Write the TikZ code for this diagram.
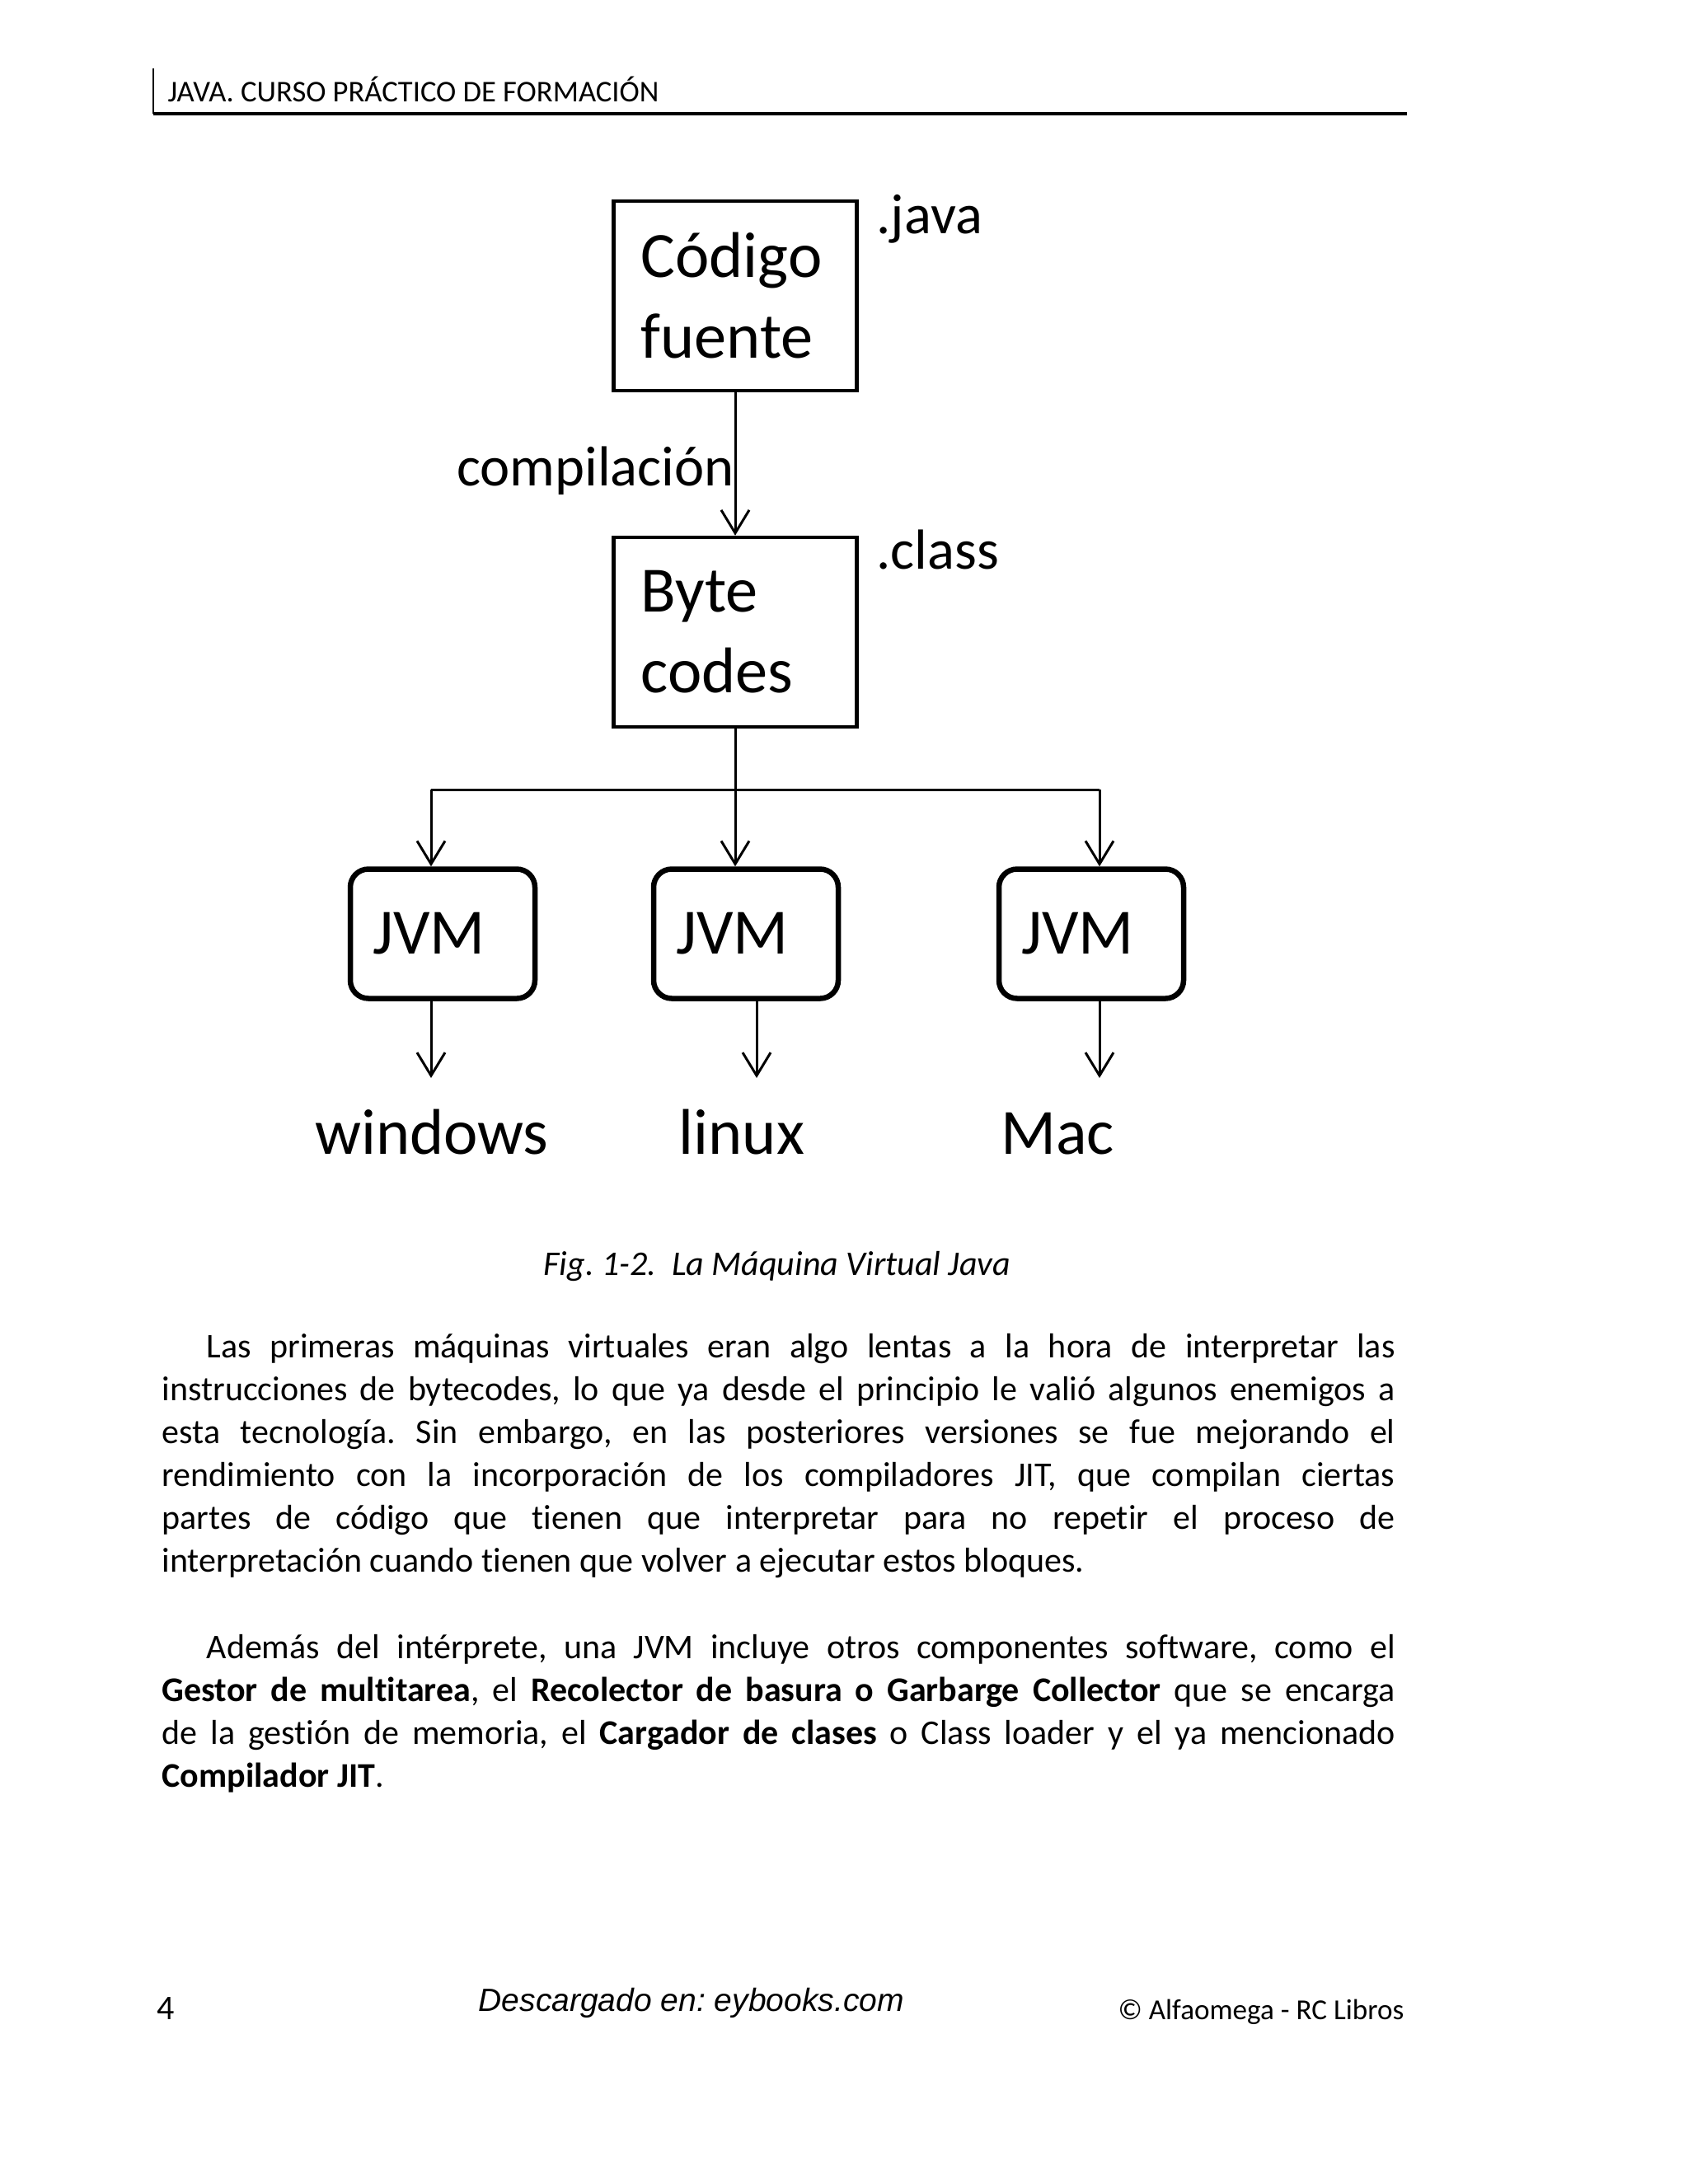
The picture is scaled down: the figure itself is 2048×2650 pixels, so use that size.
\documentclass[tikz,border=0pt]{standalone}
\usepackage{fontspec}
\setmainfont{Carlito}[Ligatures=NoCommon]
\newfontfamily\dlfont{Liberation Sans}
\usepackage{tikz}
\usetikzlibrary{arrows.meta,positioning,calc}

\newcommand\diagfont{\fontsize{22.3}{27.9}\selectfont}
\newcommand\tagfont{\fontsize{19.5}{24}\selectfont}
\newcommand\bodyfont{\fontsize{11.95}{14.8}\selectfont}
\frenchspacing

\begin{document}
\begin{tikzpicture}[x=0.1mm, y=-0.1mm,
  box/.style={draw, line width=0.45mm, minimum width=29.5mm, minimum height=23mm,
    text width=22.9mm, inner xsep=3.3mm, align=left, font=\diagfont},
  jvm/.style={draw, line width=0.65mm, rounded corners=2.2mm, minimum width=22.4mm,
    minimum height=15.7mm, text width=17mm, inner xsep=2.7mm, align=left, font=\diagfont},
  lbl/.style={inner sep=0pt, font=\diagfont},
  tag/.style={inner sep=0pt, font=\tagfont},
  para/.style={inner sep=0pt, text width=149.6mm, align=justify, font=\bodyfont},
  arr/.style={-{Straight Barb[length=2.8mm, width=3.4mm]}, line width=0.3mm}]
\useasboundingbox[fill=white] (0,0) rectangle (2048,2650);

% page header
\draw[line width=0.2mm] (186,83) -- (186,138);
\draw[line width=0.35mm] (186,138) -- (1707,138);
\node (hdr) [anchor=base west, inner sep=0pt, font=\fontsize{10.4}{12}\selectfont] at (203,123) {JAVA. CURSO PRÁCTICO DE FORMACIÓN};

% source -> bytecode
\node (src) [box] at (892,359) {Código\\fuente};
\node (bc) [box] at (892,767) {Byte\\codes};
\node (extjava) [tag, anchor=base west] at (1063,283) {.java};
\node (extclass) [tag, anchor=base west] at (1063,690) {.class};
\draw[arr] (src) -- node[tag, anchor=base east, pos=0.655] {compilación} (bc);

% one JVM per platform
\foreach \name/\x in {jwin/537, jlin/905, jmac/1324}
  \node (\name) [jvm] at (\x,1133) {JVM};

\coordinate (bl) at (523,958);
\coordinate (br) at (1334,958);
\draw[line width=0.3mm] (bc.south) -- (bc.south |- bl);
\draw[line width=0.3mm] (bl) -- (br);
\draw[arr] (bl) -- (bl |- jwin.north);
\draw[arr] (bc.south |- bl) -- (bc.south |- jlin.north);
\draw[arr] (br) -- (br |- jmac.north);

\node (win) [lbl, anchor=base] at (524,1400) {windows};
\node (lin) [lbl, anchor=base] at (900,1400) {linux};
\node (mac) [lbl, anchor=base] at (1283,1400) {Mac};
\coordinate (owin) at (523,1308);
\coordinate (olin) at (918,1308);
\coordinate (omac) at (1334,1308);
\draw[arr] (jwin.south -| owin) -- (owin);
\draw[arr] (jlin.south -| olin) -- (olin);
\draw[arr] (jmac.south -| omac) -- (omac);

% caption and text
\node (cap) [anchor=base, inner sep=0pt, font=\bodyfont\itshape] at (943,1547) {Fig. 1-2.~~La Máquina Virtual Java};

\node (p1) [para, anchor=base west] at (196,1647) {\tolerance=10000 \hspace*{5.4mm}Las primeras máquinas virtuales eran algo lentas a la hora de interpretar las\linebreak
instrucciones de bytecodes, lo que ya desde el principio le valió algunos enemigos a\linebreak
esta tecnología. Sin embargo, en las posteriores versiones se fue mejorando el\linebreak
rendimiento con la incorporación de los compiladores JIT, que compilan ciertas\linebreak
partes de código que tienen que interpretar para no repetir el proceso de\linebreak
interpretación cuando tienen que volver a ejecutar estos bloques.};

\node (p2) [para, anchor=base west] at (196,2012) {\tolerance=10000 \hspace*{5.4mm}Además del intérprete, una JVM incluye otros componentes software, como el\linebreak
\textbf{Gestor de multitarea}, el \textbf{Recolector de basura o Garbarge Collector} que se encarga\linebreak
de la gestión de memoria, el \textbf{Cargador de clases} o Class loader y el ya mencionado\linebreak
\textbf{Compilador JIT}.};

% page footer
\node (pg) [anchor=base west, inner sep=0pt, font=\bodyfont] at (190,2450) {4};
\node (dl) [anchor=base west, inner sep=0pt, font=\dlfont\itshape\fontsize{11.1}{13}\selectfont] at (580,2440) {Descargado en: eybooks.com};
\node (pub) [anchor=base east, inner sep=0pt, font=\fontsize{10}{12}\selectfont] at (1704,2450) {© Alfaomega - RC Libros};

\end{tikzpicture}
\end{document}
